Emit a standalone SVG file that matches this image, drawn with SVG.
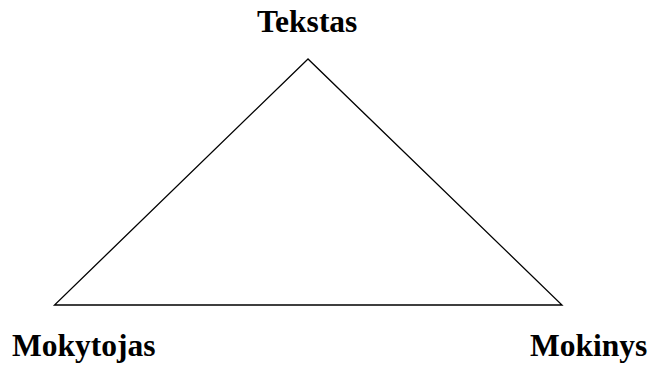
<svg xmlns="http://www.w3.org/2000/svg" width="652" height="367" viewBox="0 0 652 367">
<style>
.lbl{font-family:"Liberation Serif","Times New Roman",serif;font-weight:bold;font-size:31.5px;fill:#000}
.edge{stroke:#000;stroke-width:1.3;fill:none}
</style>
<rect width="652" height="367" fill="#fff"/>
<g id="connectors">
<path class="edge" d="M308,59 L54.5,305 L562,305 Z"/>
</g>
<g id="tekstas"><text class="lbl" x="257" y="32">Tekstas</text></g>
<g id="mokytojas"><text class="lbl" x="12" y="356">Mokytojas</text></g>
<g id="mokinys"><text class="lbl" x="530" y="356">Mokinys</text></g>
</svg>
